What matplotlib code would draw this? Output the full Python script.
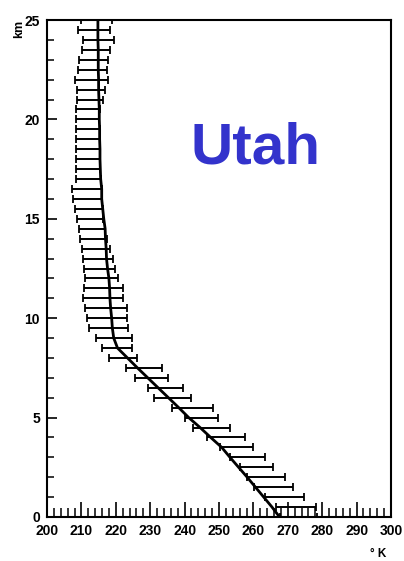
import matplotlib
matplotlib.use('Agg')
import matplotlib.pyplot as plt
from matplotlib.ticker import MultipleLocator
import numpy as np

plt.rcParams['font.family'] = ['Liberation Sans', 'DejaVu Sans']

# altitude levels (km), every 0.5 km
alt_km = np.arange(0, 25.01, 0.5)

# mean temperature profile (K)
temp_mean = [267.6, 265.4, 263.0, 260.6, 258.2, 255.7, 253.2, 250.8, 247.6, 244.5,
             241.2, 238.3, 235.3, 232.3, 229.3, 226.3, 223.4, 220.5, 219.4, 219.0,
             218.8, 218.5, 218.3, 218.2, 218.0, 217.6, 217.3, 217.2, 217.0, 216.9,
             216.5, 216.2, 215.9, 215.9, 215.6, 215.5, 215.4, 215.4, 215.3, 215.3,
             215.2, 215.2, 215.1, 215.0, 215.0, 214.9, 214.9, 214.9, 214.8, 214.8,
             214.8]

# bar ends (K)
temp_lo = [267.7, 266.6, 263.4, 260.2, 258.2, 256.1, 253.2, 250.3, 246.4, 242.5,
           240.1, 236.2, 231.1, 229.4, 225.6, 223.0, 218.1, 215.9, 214.2, 212.3,
           211.7, 211.0, 210.6, 210.8, 211.0, 210.8, 210.6, 210.3, 209.6, 209.3,
           208.6, 208.1, 207.6, 207.4, 208.3, 208.3, 208.3, 208.3, 208.3, 208.3,
           208.3, 208.3, 208.6, 208.6, 208.1, 208.9, 209.3, 210.1, 210.6, 209.1,
           210.0]
temp_hi = [278.4, 278.2, 274.7, 271.4, 269.2, 265.8, 263.4, 260.0, 257.6, 253.2,
           249.8, 248.2, 241.9, 239.4, 235.3, 233.3, 226.3, 224.6, 224.6, 223.6,
           223.2, 223.2, 222.2, 222.2, 220.7, 219.8, 219.3, 218.3, 217.3, 216.9,
           216.4, 216.2, 215.9, 215.9, 215.6, 215.5, 215.4, 215.4, 215.3, 215.3,
           215.2, 215.4, 216.4, 217.0, 217.8, 217.3, 217.8, 218.3, 219.6, 218.3,
           219.0]

W, H = 404, 561
fig = plt.figure(figsize=(W / 100., H / 100.), dpi=100)
ax = fig.add_axes([47. / W, 1 - 517. / H, (391. - 47.) / W, (517. - 20.) / H])

lo = np.array(temp_lo)
hi = np.array(temp_hi)
ax.errorbar((lo + hi) / 2., alt_km, xerr=(hi - lo) / 2., fmt='none',
            ecolor='black', elinewidth=1.4, capsize=3.2, capthick=1.3)
ax.plot(temp_mean, alt_km, color='black', linewidth=2.0)

ax.set_xlim(200, 300)
ax.set_ylim(0, 25)

ax.xaxis.set_major_locator(MultipleLocator(10))
ax.xaxis.set_minor_locator(MultipleLocator(2))
ax.yaxis.set_major_locator(MultipleLocator(5))
ax.yaxis.set_minor_locator(MultipleLocator(1))

ax.tick_params(axis='x', which='major', direction='in', length=11, width=1.2,
               pad=5, labelsize=10, top=False)
ax.tick_params(axis='x', which='minor', direction='in', length=6.5, width=1.1,
               top=False)
ax.tick_params(axis='y', which='major', direction='in', length=7, width=1.2,
               pad=5, labelsize=10, right=False)
ax.tick_params(axis='y', which='minor', direction='in', length=5, width=1.1,
               right=False)
for lab in ax.get_xticklabels() + ax.get_yticklabels():
    lab.set_fontweight('bold')

for sp in ax.spines.values():
    sp.set_linewidth(1.5)

fig.text(19. / W, 1 - 29. / H, 'km', rotation=90, fontsize=9, fontweight='bold',
         ha='center', va='center')
fig.text(378. / W, 1 - 554. / H, '\u00b0 K', fontsize=8.5, fontweight='bold',
         ha='center', va='center')

fig.text(256. / W, 1 - 163. / H, 'Utah', fontsize=42, fontweight='bold',
         color='#3333cc', ha='center', va='baseline')

fig.savefig('out.png', dpi=100)
